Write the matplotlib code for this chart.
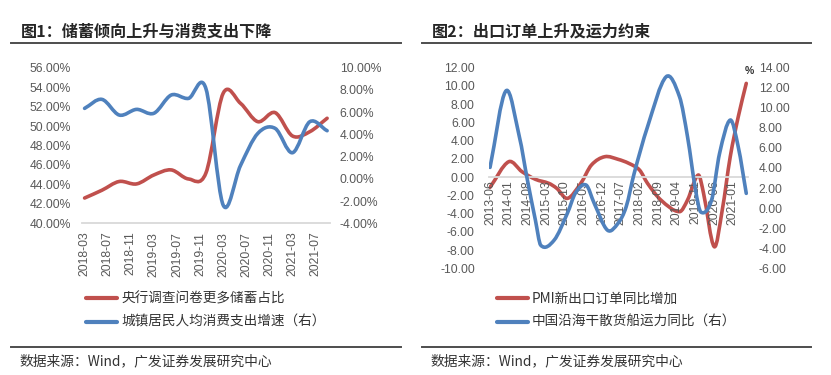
import matplotlib
matplotlib.use("Agg")
import matplotlib.pyplot as plt
from matplotlib.path import Path
from matplotlib.patches import PathPatch
from matplotlib.lines import Line2D

# ---- data: chart 1 (quarterly) ----
c1_dates = ["2018-03", "2018-06", "2018-09", "2018-12", "2019-03", "2019-06", "2019-09",
            "2019-12", "2020-03", "2020-06", "2020-09", "2020-12", "2021-03", "2021-06",
            "2021-09"]
c1_saving = [42.6, 43.4, 44.3, 44.05, 44.97, 45.49, 44.56, 45.15, 53.37, 52.34, 50.45,
             51.38, 48.98, 49.42, 50.8]
c1_spending = [6.34, 7.15, 5.74, 6.25, 5.9, 7.54, 7.24, 8.14, -2.36, 1.2, 4.09, 4.54,
               2.35, 5.14, 4.33]
c1_ticklabels = ["2018-03", "2018-07", "2018-11", "2019-03", "2019-07", "2019-11",
                 "2020-03", "2020-07", "2020-11", "2021-03", "2021-07"]

# ---- data: chart 2 ----
c2_pmi_dates = ["2013-06", "2014-01", "2014-06", "2014-11", "2015-04", "2015-07", "2015-11",
                "2016-04", "2016-08", "2017-01", "2017-06", "2017-10", "2018-02", "2018-05",
                "2018-10", "2019-05", "2019-08", "2019-12", "2020-02", "2020-06", "2020-09",
                "2020-12", "2021-03", "2021-06"]
c2_pmi = [-1.12, 1.69, 0.59, -0.24, -0.68, -1.23, -2.33, -0.68, 1.33, 2.24, 1.95, 1.51,
          0.78, -0.68, -2.51, -3.79, -2.51, 0.23, -1.78, -7.63, -3.61, 2.24, 6.62, 10.28]
c2_ship_dates = ["2013-06", "2013-12", "2014-05", "2014-08", "2014-11", "2015-01", "2015-06",
                 "2015-11", "2016-02", "2016-06", "2016-09", "2017-02", "2017-06", "2017-09",
                 "2017-12", "2018-05", "2018-12", "2019-05", "2019-08", "2019-11", "2020-01",
                 "2020-05", "2020-08", "2020-12", "2021-03", "2021-06"]
c2_ship = [4.06, 11.7, 7.1, 2.8, -1.2, -3.7, -3.2, -0.5, 1.5, 2.3, 0.5, -2.2, -1.5, 0.13,
           3.46, 8.1, 13.1, 11.1, 7.1, 1.8, -0.4, 0.8, 5.46, 8.78, 6.1, 1.47]
c2_ticklabels = ["2013-06", "2014-01", "2014-08", "2015-03", "2015-10", "2016-05", "2016-12",
                 "2017-07", "2018-02", "2018-09", "2019-04", "2019-11", "2020-06", "2021-01"]

RED = "#c0504d"
BLUE = "#4f81bd"
TICK = "#595959"
CJK = ["Noto Sans CJK SC", "DejaVu Sans"]
NUM = "Liberation Sans"

W, H = 831, 375
fig = plt.figure(figsize=(W / 100, H / 100), dpi=100, facecolor="white")


def fx(px):
    return px / W


def fy(py):
    return 1 - py / H


def month_index(s, start):
    y, m = map(int, s.split("-"))
    y0, m0 = map(int, start.split("-"))
    return (y - y0) * 12 + m - m0


def smooth_line(ax, xs, ys, color):
    # Excel-style smoothed line: cubic bezier through every point
    n = len(xs)
    slopes = []
    for i in range(n):
        a, b = max(i - 1, 0), min(i + 1, n - 1)
        slopes.append((ys[b] - ys[a]) / (xs[b] - xs[a]))
    verts = [(xs[0], ys[0])]
    codes = [Path.MOVETO]
    for i in range(n - 1):
        h = (xs[i + 1] - xs[i]) / 3
        verts += [(xs[i] + h, ys[i] + slopes[i] * h),
                  (xs[i + 1] - h, ys[i + 1] - slopes[i + 1] * h),
                  (xs[i + 1], ys[i + 1])]
        codes += [Path.CURVE4] * 3
    ax.add_patch(PathPatch(Path(verts, codes), fill=False, edgecolor=color, lw=2.6,
                           capstyle="round", joinstyle="round"))


def clean(ax):
    for s in ax.spines.values():
        s.set_visible(False)
    ax.tick_params(length=0, labelcolor=TICK)
    ax.set_facecolor("none")


def frame(x0, x1, title, source):
    fig.text(fx(x0 + 10), fy(31.7), title, fontsize=11.6, fontweight="bold", family=CJK,
             va="center", color="#262626")
    fig.add_artist(Line2D([fx(x0), fx(x1)], [fy(43.3)] * 2, color="#4d4d4d", lw=1.4))
    fig.add_artist(Line2D([fx(x0), fx(x1)], [fy(346.7)] * 2, color="#4d4d4d", lw=1.4))
    fig.text(fx(x0 + 9), fy(361.7), source, fontsize=9.9, family=CJK, va="center",
             color="#333333")


def legend_row(x0, y, color, label):
    fig.add_artist(Line2D([fx(x0), fx(x0 + 31)], [fy(y)] * 2, color=color, lw=3,
                          solid_capstyle="round"))
    fig.text(fx(x0 + 35), fy(y), label, fontsize=9.8, family=CJK, va="center",
             color="#333333")


source = "数据来源：Wind，广发证券发展研究中心"

# ---------------- chart 1 ----------------
ax1 = fig.add_axes([fx(81.7), fy(223.3), (330 - 81.7) / W, (223.3 - 67.7) / H])
ax1r = ax1.twinx()
clean(ax1)
clean(ax1r)
ax1.spines["bottom"].set_visible(True)
ax1.spines["bottom"].set_color("#d9d9d9")
ax1.spines["bottom"].set_linewidth(1.3)

x1 = [month_index(d, c1_dates[0]) for d in c1_dates]
smooth_line(ax1, x1, c1_saving, RED)
smooth_line(ax1r, x1, c1_spending, BLUE)

ax1.set_xlim(-0.5, 42.5)
ax1.set_ylim(40, 56)
ax1r.set_ylim(-4, 10)
ax1.set_xticks([month_index(d, c1_dates[0]) for d in c1_ticklabels], labels=c1_ticklabels,
               rotation=90, fontsize=8.7, fontfamily=NUM)
ax1.tick_params(axis="x", pad=6)
lt = list(range(40, 57, 2))
ax1.set_yticks(lt, labels=[f"{v:.2f}%" for v in lt], fontsize=8.7, fontfamily=NUM)
ax1.tick_params(axis="y", pad=8)
rt = list(range(-4, 11, 2))
ax1r.set_yticks(rt, labels=[f"{v:.2f}%" for v in rt], fontsize=8.7, fontfamily=NUM)
ax1r.tick_params(axis="y", pad=7)

frame(11, 401, "图1：储蓄倾向上升与消费支出下降", source)
legend_row(86, 298.3, RED, "央行调查问卷更多储蓄占比")
legend_row(86, 321.7, BLUE, "城镇居民人均消费支出增速（右）")

# ---------------- chart 2 ----------------
ax2 = fig.add_axes([fx(488.7), fy(268.3), (747.6 - 488.7) / W, (268.3 - 67.7) / H])
ax2r = ax2.twinx()
clean(ax2)
clean(ax2r)
ax2.spines["bottom"].set_visible(True)
ax2.spines["bottom"].set_position(("data", 0))
ax2.spines["bottom"].set_color("#d9d9d9")
ax2.spines["bottom"].set_linewidth(1.3)

start = c2_pmi_dates[0]
smooth_line(ax2, [month_index(d, start) for d in c2_pmi_dates], c2_pmi, RED)
smooth_line(ax2r, [month_index(d, start) for d in c2_ship_dates], c2_ship, BLUE)

ax2.set_xlim(-0.5, 96.5)
ax2.set_ylim(-10, 12)
ax2r.set_ylim(-6, 14)
ax2.set_xticks([month_index(d, start) for d in c2_ticklabels], labels=c2_ticklabels,
               rotation=90, fontsize=8.7, fontfamily=NUM)
ax2.tick_params(axis="x", pad=2)
lt2 = list(range(-10, 13, 2))
ax2.set_yticks(lt2, labels=[f"{v:.2f}" for v in lt2], fontsize=8.7, fontfamily=NUM)
ax2.tick_params(axis="y", pad=10)
rt2 = list(range(-6, 15, 2))
ax2r.set_yticks(rt2, labels=[f"{v:.2f}" for v in rt2], fontsize=8.7, fontfamily=NUM)
ax2r.tick_params(axis="y", pad=8)
fig.text(fx(749.5), fy(70.5), "%", fontsize=7.5, fontweight="bold", fontfamily=NUM,
         ha="center", va="center", color="#333333")

frame(422, 811, "图2：出口订单上升及运力约束", source)
legend_row(497, 298.3, RED, "PMI新出口订单同比增加")
legend_row(497, 321.7, BLUE, "中国沿海干散货船运力同比（右）")

fig.savefig("out.png", dpi=100, facecolor="white")
